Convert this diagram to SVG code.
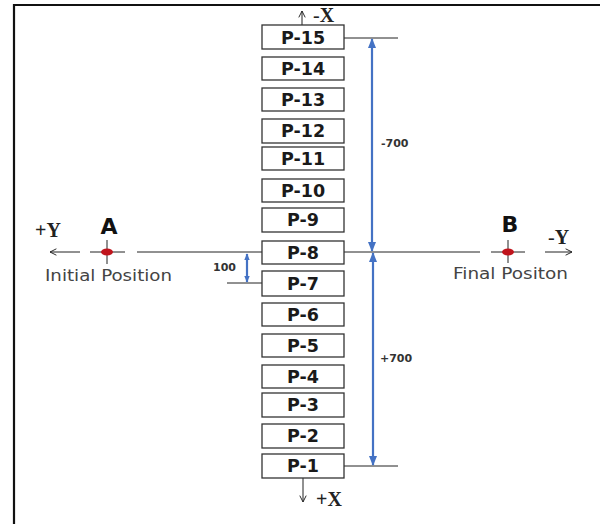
<svg xmlns="http://www.w3.org/2000/svg" width="600" height="524" viewBox="0 0 600 524">
  <style>
    .box rect { fill: #fff; stroke: #333; stroke-width: 1.3; }
    .box text { font-family: "DejaVu Sans", sans-serif; font-weight: bold; font-size: 17.5px; fill: #1a1a1a; text-anchor: middle; }
    .thin { stroke: #222; stroke-width: 1; fill: none; }
    .dim { stroke: #4472c4; stroke-width: 2.2; fill: none; }
    .dimlbl { font-family: "DejaVu Sans", sans-serif; font-weight: bold; font-size: 11px; fill: #333; }
    .axis { font-family: "Liberation Serif", serif; font-weight: bold; font-size: 20px; fill: #222; }
    .pt { font-family: "DejaVu Sans", sans-serif; font-weight: bold; font-size: 22px; fill: #111; }
    .cap { font-family: "DejaVu Sans", sans-serif; font-size: 16px; fill: #444; }
  </style>
  <defs>
    <marker id="open" viewBox="0 0 10 10" refX="9" refY="5" markerWidth="8" markerHeight="8" orient="auto-start-reverse" markerUnits="userSpaceOnUse">
      <path d="M1,1 L9,5 L1,9" fill="none" stroke="#222" stroke-width="1.2"/>
    </marker>
    <marker id="blue" viewBox="0 0 10 10" refX="9" refY="5" markerWidth="10" markerHeight="10" orient="auto-start-reverse" markerUnits="userSpaceOnUse">
      <path d="M0,1 L10,5 L0,9 Z" fill="#4472c4"/>
    </marker>
    <marker id="bluesm" viewBox="0 0 10 10" refX="9" refY="5" markerWidth="7" markerHeight="7" orient="auto-start-reverse" markerUnits="userSpaceOnUse">
      <path d="M0,1 L10,5 L0,9 Z" fill="#4472c4"/>
    </marker>
  </defs>

  <rect width="600" height="524" fill="#fff"/>
  <!-- frame (top and left edges) -->
  <path d="M14,524 V5 H600" fill="none" stroke="#111" stroke-width="2.2"/>

  <!-- connectors and dimension lines -->
  <g id="connectors">
    <!-- main Y axis -->
    <line class="thin" x1="137" y1="252" x2="262" y2="252"/>
    <line class="thin" x1="344" y1="252" x2="480" y2="252"/>
    <line class="thin" x1="80" y1="252" x2="50" y2="252" marker-end="url(#open)"/>
    <line class="thin" x1="545" y1="252" x2="572" y2="252" marker-end="url(#open)"/>
    <!-- X axis arrows -->
    <line class="thin" x1="302" y1="25" x2="302" y2="11" marker-end="url(#open)"/>
    <line class="thin" x1="303" y1="478" x2="303" y2="502" marker-end="url(#open)"/>
    <!-- extension lines -->
    <line class="thin" x1="344" y1="38" x2="398" y2="38"/>
    <line class="thin" x1="344" y1="466" x2="398" y2="466"/>
    <line class="thin" x1="227" y1="283" x2="262" y2="283"/>
    <!-- dimensions -->
    <line class="dim" x1="372" y1="39" x2="372" y2="251" marker-start="url(#blue)" marker-end="url(#blue)"/>
    <line class="dim" x1="373" y1="253" x2="373" y2="465" marker-start="url(#blue)" marker-end="url(#blue)"/>
    <line class="dim" x1="247" y1="254" x2="247" y2="282" stroke-width="1.6" marker-start="url(#bluesm)" marker-end="url(#bluesm)"/>
  </g>

  <!-- position boxes -->
  <g id="p15" class="box"><rect x="262" y="25" width="82" height="24"/><text x="303" y="43.5">P-15</text></g>
  <g id="p14" class="box"><rect x="262" y="57" width="82" height="23"/><text x="303" y="75">P-14</text></g>
  <g id="p13" class="box"><rect x="262" y="88" width="82" height="23"/><text x="303" y="105.5">P-13</text></g>
  <g id="p12" class="box"><rect x="262" y="119" width="82" height="24"/><text x="303" y="137">P-12</text></g>
  <g id="p11" class="box"><rect x="262" y="147" width="82" height="23"/><text x="303" y="164.5">P-11</text></g>
  <g id="p10" class="box"><rect x="262" y="179" width="82" height="23"/><text x="303" y="196.5">P-10</text></g>
  <g id="p9" class="box"><rect x="262" y="208" width="82" height="24"/><text x="303" y="226">P-9</text></g>
  <g id="p8" class="box"><rect x="262" y="241" width="82" height="23"/><text x="303" y="258.5">P-8</text></g>
  <g id="p7" class="box"><rect x="262" y="271" width="82" height="25"/><text x="303" y="289.5">P-7</text></g>
  <g id="p6" class="box"><rect x="262" y="303" width="82" height="23"/><text x="303" y="320.5">P-6</text></g>
  <g id="p5" class="box"><rect x="262" y="334" width="82" height="23"/><text x="303" y="351.5">P-5</text></g>
  <g id="p4" class="box"><rect x="262" y="365" width="82" height="23"/><text x="303" y="382.5">P-4</text></g>
  <g id="p3" class="box"><rect x="262" y="393" width="82" height="24"/><text x="303" y="411">P-3</text></g>
  <g id="p2" class="box"><rect x="262" y="424" width="82" height="24"/><text x="303" y="442">P-2</text></g>
  <g id="p1" class="box"><rect x="262" y="454" width="82" height="24"/><text x="303" y="472">P-1</text></g>

  <!-- point A -->
  <g id="pointA">
    <line class="thin" x1="90" y1="252" x2="125" y2="252"/>
    <line class="thin" x1="107" y1="240" x2="107" y2="264"/>
    <ellipse cx="107" cy="252" rx="6" ry="3.5" fill="#c0141c"/>
    <text class="pt" x="109" y="234" text-anchor="middle">A</text>
    <text class="cap" x="45" y="281" textLength="127" lengthAdjust="spacingAndGlyphs">Initial Position</text>
  </g>

  <!-- point B -->
  <g id="pointB">
    <line class="thin" x1="491" y1="252" x2="525" y2="252"/>
    <line class="thin" x1="508" y1="240" x2="508" y2="263"/>
    <ellipse cx="508" cy="252" rx="6" ry="3.5" fill="#c0141c"/>
    <text class="pt" x="510" y="232" text-anchor="middle">B</text>
    <text class="cap" x="453" y="279" textLength="115" lengthAdjust="spacingAndGlyphs">Final Positon</text>
  </g>

  <!-- axis labels -->
  <text class="axis" x="35" y="237">+Y</text>
  <text class="axis" x="548" y="244"><tspan font-weight="normal">-</tspan>Y</text>
  <text class="axis" x="313" y="22"><tspan font-weight="normal">-</tspan>X</text>
  <text class="axis" x="316" y="506">+X</text>

  <!-- dimension labels -->
  <text class="dimlbl" x="381" y="147">-700</text>
  <text class="dimlbl" x="380" y="362">+700</text>
  <text class="dimlbl" x="213" y="271" font-family="Liberation Serif, serif" font-size="11">100</text>
</svg>
